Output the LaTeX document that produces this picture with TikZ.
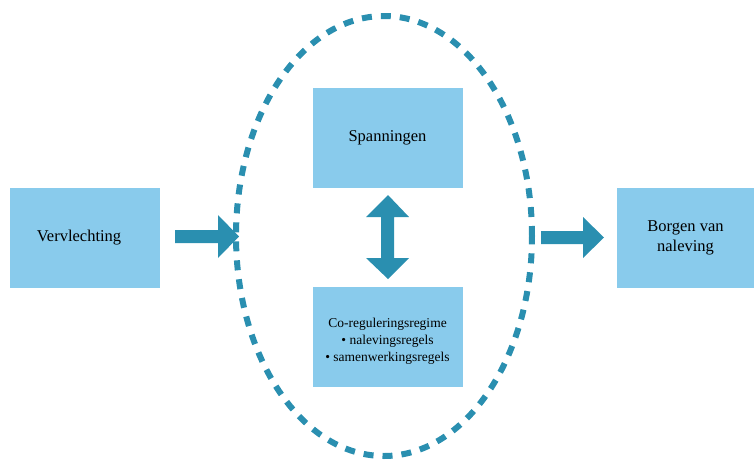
\documentclass[tikz,border=0pt]{standalone}
\usepackage{fontspec}
\setmainfont{Liberation Serif}
\usetikzlibrary{shapes.geometric}
\definecolor{boxblue}{RGB}{137,203,236}
\definecolor{arrowteal}{RGB}{42,143,176}
\begin{document}
\begin{tikzpicture}[x=1pt,y=-1pt,
  box/.style={fill=boxblue,draw=none,minimum width=150pt,minimum height=100pt,
    inner sep=0pt,align=center,font=\fontsize{16.5}{20}\selectfont},
  smalltext/.style={font=\fontsize{13.5}{17}\selectfont},
  fatarrow/.style={fill=arrowteal,draw=none}]
\useasboundingbox (0,0) rectangle (756,459);
% boxes
\node[box] (verv) at (85,237.5) {Vervlechting\hspace*{12pt}};
\node[box] (span) at (387.5,137.5) {Spanningen};
\node[box,smalltext] (coreg) at (387.5,336.5) {\strut\\[-11pt]Co-reguleringsregime\\
  \textbullet\ nalevingsregels\\ \textbullet\ samenwerkingsregels};
\node[box,minimum width=137pt] (borg) at (685.5,237.5) {Borgen van\\ naleving};
% dashed ellipse around the two inner boxes
\node[draw=arrowteal,line width=6pt,dash pattern=on 10pt off 9pt,ellipse,
  minimum width=296pt,minimum height=440pt,inner sep=0pt] (scope) at (384,236) {};
% block arrows
\fill[fatarrow] (175,230) -- (218,230) -- (218,215) -- (239,236.5) -- (218,258)
  -- (218,243) -- (175,243) -- cycle;
\fill[fatarrow] (541,231) -- (583,231) -- (583,217) -- (604,237.5) -- (583,258)
  -- (583,244) -- (541,244) -- cycle;
% double arrow between the two inner boxes
\fill[fatarrow] (388,195) -- (409,217) -- (394,217) -- (394,258) -- (409,258)
  -- (388,279) -- (366,258) -- (381,258) -- (381,217) -- (366,217) -- cycle;
\end{tikzpicture}
\end{document}
